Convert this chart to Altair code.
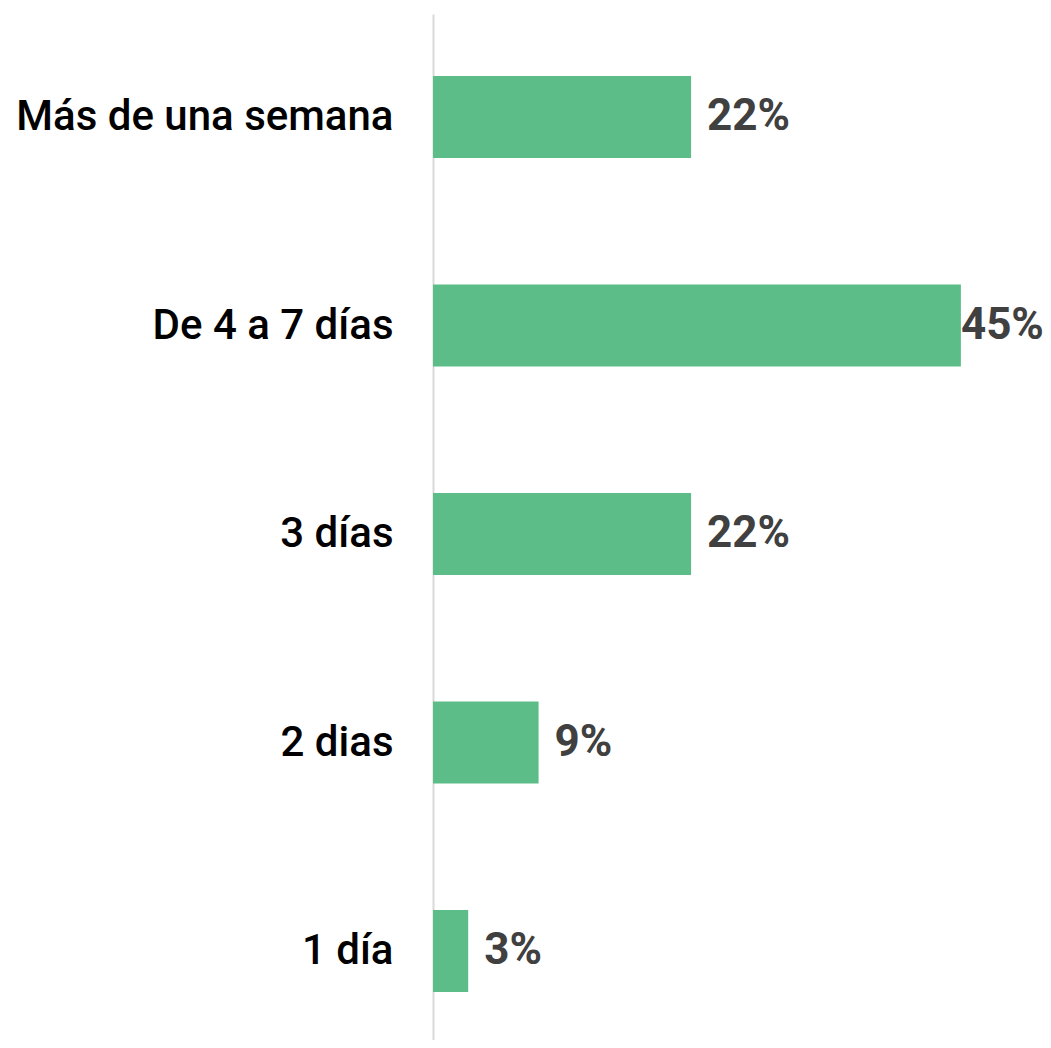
import altair as alt
import pandas as pd

categories = ["Más de una semana", "De 4 a 7 días", "3 días", "2 dias", "1 día"]
values = [22, 45, 22, 9, 3]
labels = ["22%", "45%", "22%", "9%", "3%"]

df = pd.DataFrame({"cat": categories, "val": values, "lab": labels})

y = alt.Y("cat:N", sort=categories, title=None,
          scale=alt.Scale(paddingInner=0.607, paddingOuter=0.264, align=0.564),
          axis=alt.Axis(domain=True, domainColor="#d9d9d9", domainWidth=2,
                        ticks=False, labelFont="Roboto", labelFontSize=42,
                        labelFontWeight=500, labelColor="#000000",
                        labelPadding=40, labelLimit=600))
x = alt.X("val:Q", scale=alt.Scale(domain=[0, 52]), axis=None)

bars = alt.Chart(df).mark_bar(color="#5cbd88").encode(x=x, y=y)

txt_small = alt.Chart(df).transform_filter("datum.val < 40").mark_text(
    align="left", baseline="middle", dx=16, font="Roboto", fontSize=44,
    fontWeight="bold", color="#404040").encode(x=x, y=y, text="lab:N")
txt_big = alt.Chart(df).transform_filter("datum.val >= 40").mark_text(
    align="left", baseline="middle", dx=0, font="Roboto", fontSize=44,
    fontWeight="bold", color="#404040").encode(x=x, y=y, text="lab:N")

chart = alt.layer(bars, txt_small, txt_big).properties(
    width=610, height=1026,
    autosize=alt.AutoSizeParams(type="none"),
    padding={"left": 425, "top": 6, "right": 0, "bottom": 0},
).configure_view(stroke=None)

chart.save("out.html", embed_options={"renderer": "svg", "actions": False})
